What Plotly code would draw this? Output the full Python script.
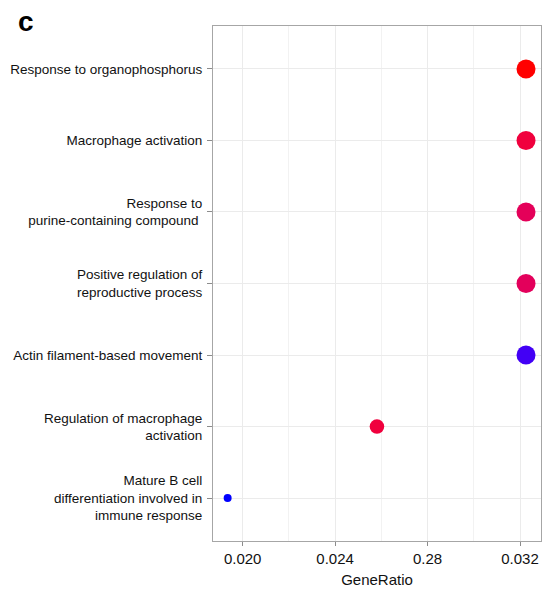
import numpy as np
import plotly.graph_objects as go

# GO enrichment terms (top to bottom)
terms = [
    "Response to organophosphorus",
    "Macrophage activation",
    "Response to<br>purine-containing compound ",
    "Positive regulation of<br>reproductive process",
    "Actin filament-based movement",
    "Regulation of macrophage<br>activation",
    "Mature B cell<br>differentiation involved in<br>immune response",
]
gene_ratio = [0.03226, 0.03226, 0.03226, 0.03226, 0.03226, 0.02581, 0.01935]
gene_count = [3, 3, 3, 3, 3, 2, 1]
p_adjust = [0.0102, 0.0119, 0.0131, 0.0132, 0.0198, 0.0119, 0.0202]

x_ticks = [0.020, 0.024, 0.028, 0.032]
x_tick_labels = ["0.020", "0.024", "0.28", "0.032"]


# red -> blue gradient interpolated in CIE Lab space
def srgb_to_lab(rgb):
    c = np.array(rgb, dtype=float) / 255.0
    c = np.where(c > 0.04045, ((c + 0.055) / 1.055) ** 2.4, c / 12.92)
    m = np.array([[0.4124, 0.3576, 0.1805],
                  [0.2126, 0.7152, 0.0722],
                  [0.0193, 0.1192, 0.9505]])
    xyz = m @ c / np.array([0.95047, 1.0, 1.08883])
    f = np.where(xyz > 0.008856, np.cbrt(xyz), 7.787 * xyz + 16 / 116)
    return np.array([116 * f[1] - 16, 500 * (f[0] - f[1]), 200 * (f[1] - f[2])])


def lab_to_srgb(lab):
    L, a, b = lab
    fy = (L + 16) / 116
    fx = fy + a / 500
    fz = fy - b / 200
    f = np.array([fx, fy, fz])
    xyz = np.where(f ** 3 > 0.008856, f ** 3, (f - 16 / 116) / 7.787)
    xyz = xyz * np.array([0.95047, 1.0, 1.08883])
    m = np.array([[3.2406, -1.5372, -0.4986],
                  [-0.9689, 1.8758, 0.0415],
                  [0.0557, -0.2040, 1.0570]])
    c = np.clip(m @ xyz, 0, 1)
    c = np.where(c > 0.0031308, 1.055 * c ** (1 / 2.4) - 0.055, 12.92 * c)
    c = np.clip(np.round(c * 255), 0, 255).astype(int)
    return "rgb({},{},{})".format(*c)


lab_lo = srgb_to_lab((255, 0, 0))
lab_hi = srgb_to_lab((0, 0, 255))
stops = np.linspace(0, 1, 41)
colorscale = [[float(t), lab_to_srgb(lab_lo + t * (lab_hi - lab_lo))] for t in stops]

# point area scales with gene count
d_min, d_max = 8.0, 19.0
cnt = np.array(gene_count, dtype=float)
frac = (cnt - cnt.min()) / (cnt.max() - cnt.min())
dot_diam = np.sqrt(d_min ** 2 + frac * (d_max ** 2 - d_min ** 2))

fig = go.Figure(
    go.Scatter(
        x=gene_ratio,
        y=terms,
        mode="markers",
        marker=dict(
            size=dot_diam,
            color=p_adjust,
            colorscale=colorscale,
            cmin=min(p_adjust),
            cmax=max(p_adjust),
            showscale=False,
            line=dict(width=0),
            opacity=1,
        ),
        hovertemplate="%{y}<br>GeneRatio=%{x}<extra></extra>",
    )
)

font_family = "Liberation Sans, Arial, sans-serif"
n = len(terms)

fig.update_layout(
    width=543,
    height=591,
    margin=dict(l=213, r=2, t=26, b=50),
    paper_bgcolor="white",
    plot_bgcolor="white",
    showlegend=False,
    font=dict(family=font_family, color="black"),
    title=dict(
        text="<b>c</b>",
        xref="container",
        yref="container",
        x=18 / 543,
        xanchor="left",
        y=1 - 21 / 591,
        yanchor="middle",
        font=dict(size=28, color="black", family=font_family),
    ),
)

fig.update_xaxes(
    range=[0.018716, 0.032908],
    tickmode="array",
    tickvals=x_ticks,
    ticktext=x_tick_labels,
    ticks="outside",
    ticklen=4,
    tickcolor="#8c8c8c",
    tickfont=dict(size=15, color="#111111"),
    showline=True,
    mirror=True,
    linecolor="#a6a6a6",
    linewidth=1,
    showgrid=True,
    gridcolor="#ebebeb",
    gridwidth=1,
    minor=dict(tickvals=[0.018, 0.022, 0.026, 0.030], showgrid=True,
               gridcolor="#f2f2f2", gridwidth=1),
    zeroline=False,
    title=dict(text="GeneRatio", font=dict(size=15, color="#111111"), standoff=8),
)

fig.update_yaxes(
    type="category",
    categoryorder="array",
    categoryarray=terms,
    range=[n - 1 + 0.6, -0.6],
    ticks="outside",
    ticklen=5,
    tickcolor="#8c8c8c",
    tickfont=dict(size=13.5, color="#111111"),
    ticklabelstandoff=2,
    showline=True,
    mirror=True,
    linecolor="#a6a6a6",
    linewidth=1,
    showgrid=True,
    gridcolor="#ebebeb",
    gridwidth=1,
    zeroline=False,
)

fig.write_html("out.html")
